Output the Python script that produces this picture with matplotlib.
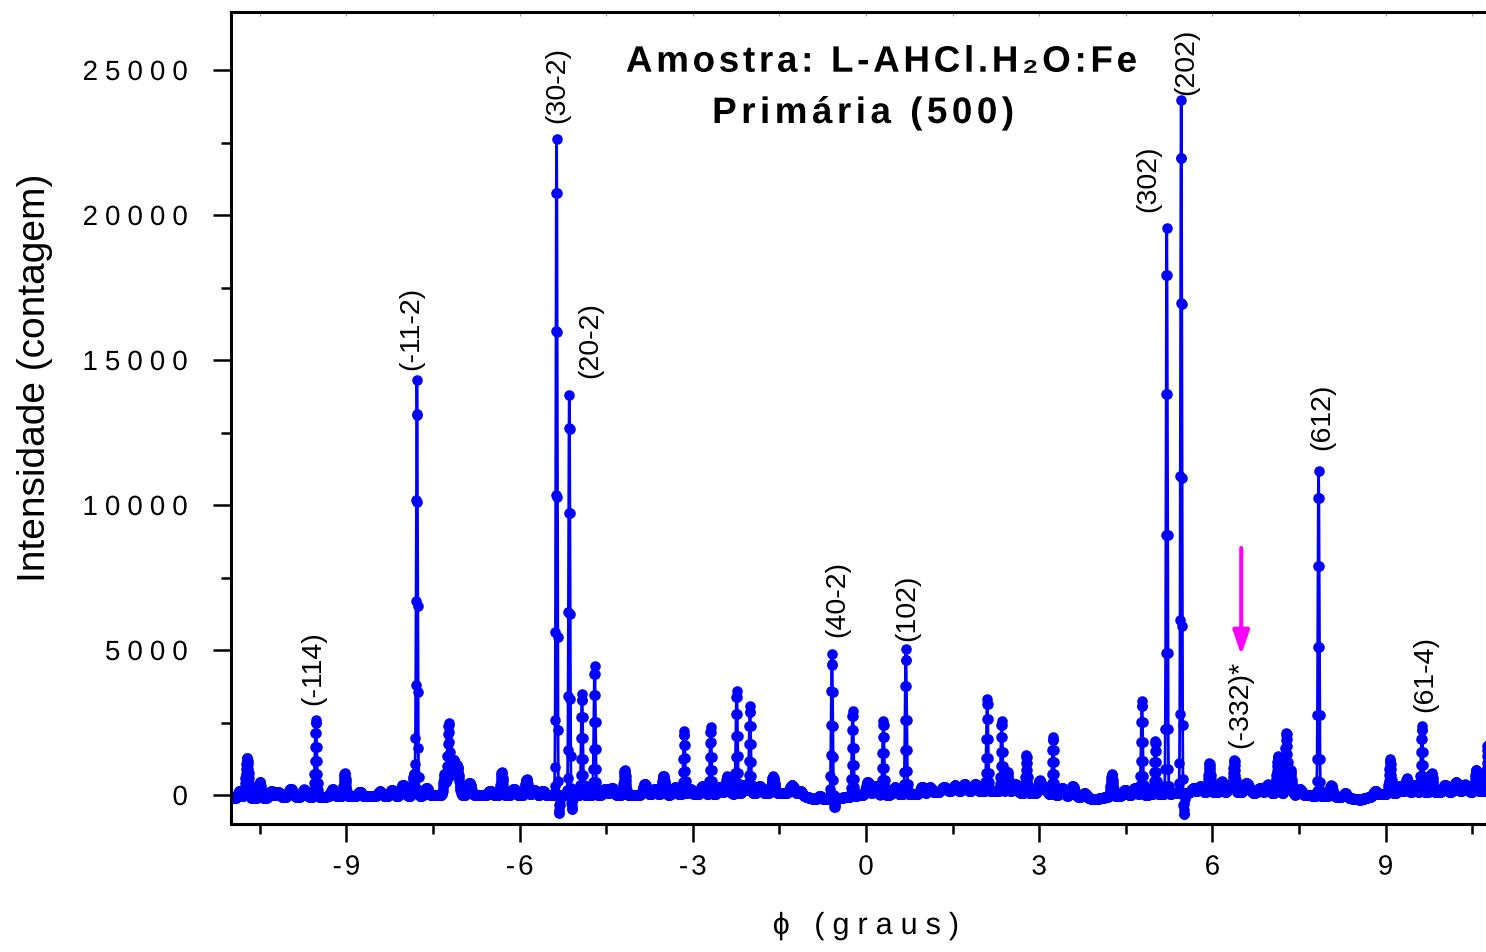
import numpy as np
import matplotlib
matplotlib.use("Agg")
import matplotlib.pyplot as plt
from matplotlib import patheffects, _text_helpers
from matplotlib.path import Path
from matplotlib.textpath import TextToPath
from matplotlib.ticker import FixedLocator, FixedFormatter

# ---------------------------------------------------------------- data
# phi scan (degrees)
phi_start, phi_stop, phi_step = -10.95, 11.0, 0.005

# background level along the scan (counts)
base_phi = [-10.95, -9.81, -8.07, -6.86, -5.65, -4.61, -2.88, -1.49, -1.14,
            -0.88, -0.62, -0.10, 0.94, 1.46, 2.32, 3.01, 3.71, 3.97, 4.23,
            5.27, 5.79, 6.83, 7.52, 8.21, 8.56, 8.91, 9.77, 11.0]
base_counts = [-120, -60, -30, 0, -20, 0, 20, 80, 0,
               -150, -150, 0, 30, 140, 120, 50, -60, -150, -40,
               50, 100, 80, 0, -60, -160, 40, 100, 130]

# reflections: centre (deg), height (counts), width (deg)
peak_phi = [-10.72, -10.50, -10.19, -9.95, -9.73, -9.53, -9.24, -9.03, -8.02,
            -7.83, -7.78, -7.61, -7.30, -7.23, -7.15, -7.08, -6.87, -6.31,
            -6.10, -5.88, -5.60, -5.36, -5.14, -4.92, -4.70, -4.18, -3.83,
            -3.51, -3.15, -2.83, -2.69, -2.40, -2.24, -2.01, -1.61, -1.28,
            -0.59, -0.23, 0.03, 0.30, 0.69, 0.97, 1.35, 1.71, 2.10, 2.35,
            2.45, 2.78, 3.01, 3.24, 3.58, 4.26, 4.78, 5.01, 5.21, 5.46, 5.95,
            6.16, 6.38, 6.62, 6.83, 7.14, 7.28, 7.35, 7.84, 8.06, 9.08, 9.37,
            9.63, 9.80, 10.22, 10.57, 10.77]
peak_counts = [1400, 550, 200, 150, 250, 2650, 250, 800, 380,
               750, 14300, 260, 750, 2450, 1150, 950, 420, 800,
               230, 560, 170, 22650, 13800, 3500, 4450, 850, 380,
               650, 2200, 300, 2300, 600, 3550, 3000, 570, 300,
               5000, 2950, 450, 2550, 5000, 250, 150, 250, 3200, 2450,
               700, 1300, 450, 2000, 350, 750, 3250, 1850, 19500, 23900, 1000,
               380, 1100, 200, 170, 1300, 2100, 850, 11200, 380, 1180, 500,
               2280, 650, 330, 750, 1600]
peak_width = [0.025, 0.02, 0.03, 0.03, 0.03, 0.016, 0.03, 0.02, 0.03,
              0.02, 0.012, 0.03, 0.02, 0.018, 0.03, 0.03, 0.03, 0.02,
              0.03, 0.025, 0.03, 0.012, 0.012, 0.014, 0.014, 0.02, 0.03,
              0.025, 0.014, 0.03, 0.014, 0.03, 0.014, 0.014, 0.025, 0.04,
              0.013, 0.014, 0.03, 0.014, 0.013, 0.03, 0.04, 0.03, 0.014, 0.014,
              0.02, 0.015, 0.025, 0.014, 0.03, 0.02, 0.014, 0.015, 0.012, 0.012, 0.02,
              0.025, 0.018, 0.03, 0.03, 0.025, 0.02, 0.025, 0.012, 0.025, 0.018, 0.025,
              0.015, 0.02, 0.03, 0.02, 0.02]

# weak features riding on the background
weak_phi = [-10.85, -10.30, -9.98, -8.77, -8.42, -8.21, -6.51, -5.75, -4.52,
            -4.40, -3.66, -3.31, -3.05, -2.53, -2.10, -1.84, -1.14, -0.80,
            0.16, 0.50, 1.11, 1.54, 1.89, 2.58, 3.10, 3.40, 3.79, 4.49, 4.66,
            5.67, 5.79, 6.31, 6.57, 6.96, 7.52, 8.30, 8.82, 9.25, 9.51, 10.03,
            10.38]
weak_counts = [250, 220, 180, 160, 160, 200, 160, 200, 220,
               250, 200, 250, 200, 250, 300, 250, 150, 120,
               300, 250, 200, 200, 250, 300, 250, 250, 150, 200, 250,
               150, 200, 300, 250, 300, 200, 150, 150, 250, 250, 250,
               250]
weak_width = [0.03] * len(weak_phi)

# negative excursions beside the strongest reflections
dip_phi = [-5.32, -5.10, -0.55, 5.50]
dip_counts = [-700, -520, -330, -820]
dip_width = [0.012, 0.012, 0.012, 0.012]

# Miller-index annotations: text, centre phi, lower end (counts)
hkl_text = ["(-114)", "(-11-2)", "(30-2)", "(20-2)", "(40-2)", "(102)",
            "(302)", "(202)", "(-332)*", "(612)", "(61-4)"]
hkl_phi = [-9.58, -7.87, -5.35, -4.78, -0.50, 0.71, 4.89, 5.54, 6.48, 7.90, 9.68]
hkl_y = [3100, 14650, 23170, 14380, 5450, 5310, 20100, 24140, 1620, 11900, 2860]

# arrow marking the (-332) position
arrow_phi = 6.50
arrow_from, arrow_to = 8520, 4830

x_ticks = [-9, -6, -3, 0, 3, 6, 9]
x_ticklabels = ["-9", "-6", "-3", "0", "3", "6", "9"]
x_minor = [-10.5, -7.5, -4.5, -1.5, 1.5, 4.5, 7.5, 10.5]
y_ticks = [0, 5000, 10000, 15000, 20000, 25000]
y_ticklabels = ["0", "5000", "10000", "15000", "20000", "25000"]
y_minor = [2500, 7500, 12500, 17500, 22500]

title_1 = "Amostra: L-AHCl.H\u2082O:Fe"
title_2 = "Primária (500)"
x_label = "\u03d5 (graus)"
y_label = "Intensidade (contagem)"

# ---------------------------------------------------------------- profile
phi = np.arange(phi_start, phi_stop, phi_step)
counts = np.interp(phi, base_phi, base_counts)
for c, h, w in zip(peak_phi + weak_phi + dip_phi,
                   peak_counts + weak_counts + dip_counts,
                   peak_width + weak_width + dip_width):
    counts = counts + h * np.exp(-0.5 * ((phi - c) / w) ** 2)


# ---------------------------------------------------------------- helpers
class Tracking(patheffects.AbstractPathEffect):
    """Render a Text with extra space (pixels) between its characters."""

    def __init__(self, text, gap_px, anchor):
        super().__init__()
        self.text = text
        self.gap_px = gap_px
        self.anchor = anchor

    def draw_path(self, renderer, gc, tpath, affine, rgbFace=None):
        s = self.text.get_text()
        prop = self.text.get_fontproperties()
        t2p = TextToPath()
        font = t2p._get_font(prop)
        xs = np.array([item.x for item in _text_helpers.layout(s, font)])
        size_px = renderer.points_to_pixels(prop.get_size_in_points())
        gap = self.gap_px / (size_px / t2p.FONT_SCALE)
        total = gap * max(len(xs) - 1, 0)
        verts = tpath.vertices.copy()
        codes = tpath.codes
        if codes is not None and len(xs):
            starts = list(np.flatnonzero(codes == Path.MOVETO)) + [len(codes)]
            for a, b in zip(starts[:-1], starts[1:]):
                seg = verts[a:b, 0]
                cx = 0.5 * (seg.min() + seg.max())
                i = max(int(np.searchsorted(xs, cx, side="right")) - 1, 0)
                verts[a:b, 0] += i * gap - self.anchor * total
        renderer.draw_path(gc, Path(verts, codes), affine, rgbFace)


def track(text, gap_px, anchor):
    text.set_path_effects([Tracking(text, gap_px, anchor)])
    return text


SANS = ["Liberation Sans", "DejaVu Sans"]
plt.rcParams["font.family"] = SANS

BLUE = "#0000ff"

# ---------------------------------------------------------------- figure
W, H = 1486, 952
fig = plt.figure(figsize=(W / 100, H / 100), dpi=100)
ax = fig.add_axes([231 / W, 128 / H, 1270 / W, 812 / H])

ax.plot(phi, counts, "-o", color=BLUE, lw=2.0, ms=7.6, mew=0,
        markerfacecolor=BLUE)

ax.set_xlim(-11, 11)
ax.set_ylim(-1000, 27000)

ax.xaxis.set_major_locator(FixedLocator(x_ticks))
ax.xaxis.set_major_formatter(FixedFormatter(x_ticklabels))
ax.xaxis.set_minor_locator(FixedLocator(x_minor))
ax.yaxis.set_major_locator(FixedLocator(y_ticks))
ax.yaxis.set_major_formatter(FixedFormatter(y_ticklabels))
ax.yaxis.set_minor_locator(FixedLocator(y_minor))

ax.tick_params(which="both", direction="out", width=1.8, color="black")
ax.tick_params(which="major", length=13)
ax.tick_params(which="minor", length=7)
ax.tick_params(axis="x", which="major", pad=9, labelsize=20)
ax.tick_params(axis="y", which="major", pad=18, labelsize=20)

for side in ("left", "bottom", "top"):
    ax.spines[side].set_linewidth(2.2)
ax.spines["right"].set_visible(False)

# small inward marks along the upper frame
top = ax.secondary_xaxis("top")
top.set_xticks(x_ticks + x_minor)
top.tick_params(direction="in", length=3, width=0.8, color="#999999",
                labeltop=False)
top.spines["top"].set_visible(False)

ax.set_xlabel(x_label, fontsize=22, va="center")
ax.xaxis.set_label_coords(0.5, -0.1256)
ax.set_ylabel(y_label, fontsize=28, va="center")
ax.yaxis.set_label_coords(-0.154, 0.549)
track(ax.xaxis.label, 8, 0.5)

for xv, yv, s in zip(hkl_phi, hkl_y, hkl_text):
    ax.text(xv, yv, s, rotation=90, ha="center", va="bottom", fontsize=20.5)

ax.annotate("", xy=(arrow_phi, arrow_to), xytext=(arrow_phi, arrow_from),
            arrowprops=dict(arrowstyle="-|>,head_length=0.58,head_width=0.2",
                            mutation_scale=25, color="#ff00ff", lw=2.9,
                            shrinkA=0, shrinkB=0))

t1 = fig.text(881 / W, 1 - 71.7 / H, title_1, ha="center", va="baseline",
              fontsize=26.5, fontweight="bold")
t2 = fig.text(863 / W, 1 - 123 / H, title_2, ha="center", va="baseline",
              fontsize=26.5, fontweight="bold")
track(t1, 3.7, 0.5)
track(t2, 4.5, 0.5)

fig.canvas.draw()
for lab in ax.get_xticklabels():
    track(lab, 3, 0.5)
for lab in ax.get_yticklabels():
    track(lab, 7, 1.0)

fig.savefig("out.png", dpi=100)
